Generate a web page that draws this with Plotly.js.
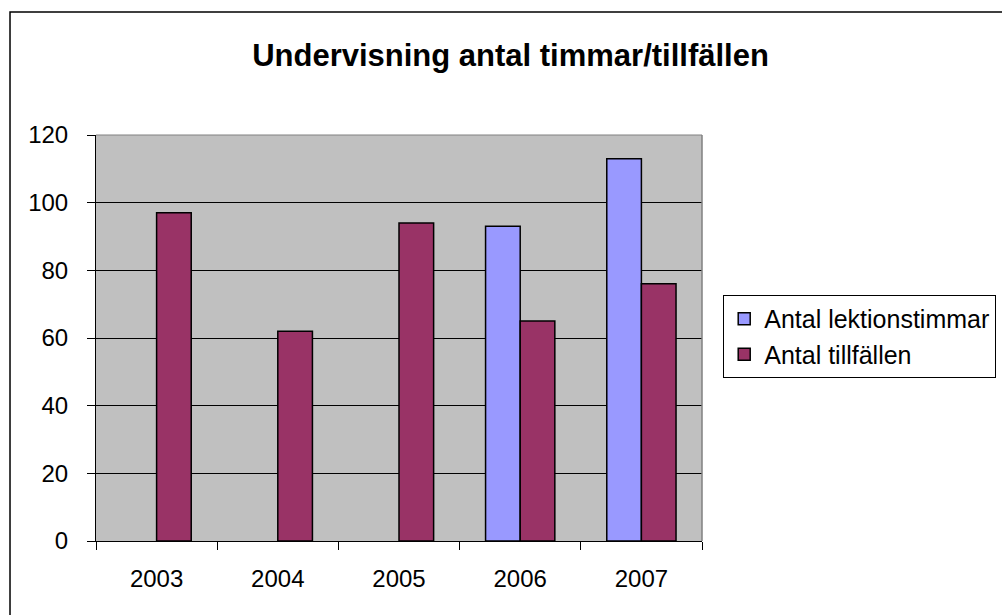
<!DOCTYPE html>
<html>
<head>
<meta charset="utf-8">
<script src="https://cdn.plot.ly/plotly-3.0.1.min.js"></script>
<style>html,body{margin:0;padding:0;background:#fff;}#chart{width:1002px;height:615px;}</style>
</head>
<body>
<div id="chart"></div>
<script>
var years = ['2003', '2004', '2005', '2006', '2007'];
var lektionstimmar = [null, null, null, 93, 113];
var tillfallen = [97, 62, 94, 65, 76];
var seriesNames = ['Antal lektionstimmar', 'Antal tillfällen'];
var yTicks = [0, 20, 40, 60, 80, 100, 120];

var font = 'Liberation Sans, Arial, sans-serif';
var traces = [
  {type: 'bar', name: seriesNames[0], x: years, y: lektionstimmar,
   marker: {color: '#9999ff', line: {color: '#000', width: 1.5}}},
  {type: 'bar', name: seriesNames[1], x: years, y: tillfallen,
   marker: {color: '#993366', line: {color: '#000', width: 1.5}}}
];
var layout = {
  width: 1002, height: 615,
  margin: {l: 96, r: 300, t: 135, b: 74, pad: 0, autoexpand: false},
  paper_bgcolor: '#fff', plot_bgcolor: '#c0c0c0',
  font: {family: font, size: 24, color: '#000'},
  title: {text: '<b>Undervisning antal timmar/tillfällen</b>', font: {family: font, size: 31, color: '#000'},
          x: 0.5095, xanchor: 'center', y: 0.91, yanchor: 'middle'},
  barmode: 'group', bargap: 0.4286, bargroupgap: 0,
  showlegend: true,
  legend: {x: 1.035, xanchor: 'left', y: 0.606, yanchor: 'top', bgcolor: '#fff',
           bordercolor: '#000', borderwidth: 1, font: {family: font, size: 25, color: '#000'},
           traceorder: 'normal'},
  xaxis: {type: 'category', showgrid: false, showline: true, linecolor: '#000', linewidth: 1,
          ticks: 'outside', tickson: 'boundaries', ticklen: 8, tickcolor: '#000',
          ticklabelstandoff: 16, tickfont: {size: 24}, zeroline: false, mirror: false},
  yaxis: {range: [0, 120], tickvals: yTicks, showgrid: true, gridcolor: '#000', gridwidth: 1,
          showline: true, linecolor: '#000', linewidth: 1, ticks: 'outside', ticklen: 8,
          tickcolor: '#000', ticklabelstandoff: 14, zeroline: false, tickfont: {size: 24}},
  shapes: [
    {type: 'line', xref: 'paper', yref: 'paper', x0: 1, x1: 1, y0: 0, y1: 1, line: {color: '#808080', width: 1.5}},
    {type: 'line', xref: 'paper', yref: 'paper', x0: 0, x1: 1, y0: 1, y1: 1, line: {color: '#808080', width: 1}},
    {type: 'rect', xref: 'paper', yref: 'paper', x0: -0.1419, x1: 1.7, y0: -0.3, y1: 1.303,
     line: {color: '#000', width: 1.5}, fillcolor: 'rgba(0,0,0,0)'}
  ]
};
Plotly.newPlot('chart', traces, layout, {displayModeBar: false, staticPlot: true});
</script>
</body>
</html>
